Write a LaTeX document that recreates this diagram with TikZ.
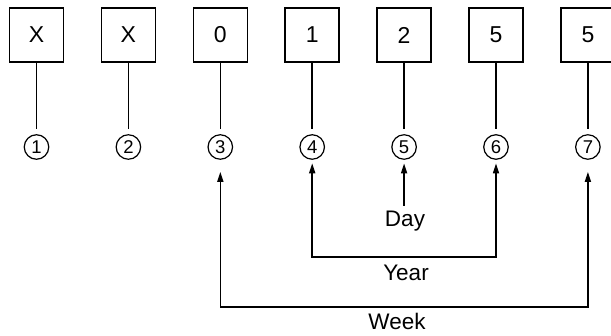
\documentclass[tikz,border=0pt]{standalone}
\usepackage{fontspec}
\setmainfont{Liberation Sans}
\usetikzlibrary{arrows.meta}
\begin{document}
\begin{tikzpicture}[x=1pt,y=-1pt,
  digitbox/.style={draw, line width=1.6pt, minimum width=54pt, minimum height=54pt, inner sep=0pt, font=\fontsize{23}{27}\selectfont},
  circ/.style={draw, circle, line width=1.2pt, minimum size=24.5pt, inner sep=0pt, font=\fontsize{18.5}{22}\selectfont},
  lbl/.style={inner sep=0pt, font=\fontsize{22.5}{27}\selectfont},
  stem/.style={line width=1.6pt, shorten >=5.5pt},
  arr/.style={line width=1.6pt, -{Triangle[length=10pt,width=6pt]}},
  barr/.style={line width=1.6pt, {Triangle[length=10pt,width=6pt]}-{Triangle[length=10pt,width=6pt]}}
]
\clip (0,0) rectangle (611,336);
\useasboundingbox (0,0) rectangle (611,336);
\foreach \i/\t in {1/X,2/X,3/0,4/1,5/2,6/5,7/5}{
  \pgfmathsetmacro{\cx}{36.5+91.9*(\i-1)}
  \node[digitbox] (b\i) at (\cx,35) {\t};
  \node[circ] (c\i) at (\cx,147) {\i};
  \draw[stem] (b\i.south) -- (c\i.north);
}
\node[lbl, anchor=base] (day) at (405,226.5) {Day};
\node[lbl, anchor=base] (year) at (406,281) {Year};
\node[lbl, anchor=base] (week) at (397,330) {Week};
\coordinate (yl) at (312,257);
\coordinate (wl) at (220,307);
\draw[arr, shorten <=5pt, shorten >=3.5pt] (c5.south |- day.north) -- (c5.south);
\draw[barr, shorten <=3.5pt, shorten >=3.5pt] (c4.south) -- (c4.south |- yl) -- (c6.south |- yl) -- (c6.south);
\draw[barr, shorten <=12pt, shorten >=12pt] (c3.south) -- (c3.south |- wl) -- (c7.south |- wl) -- (c7.south);
\end{tikzpicture}
\end{document}
